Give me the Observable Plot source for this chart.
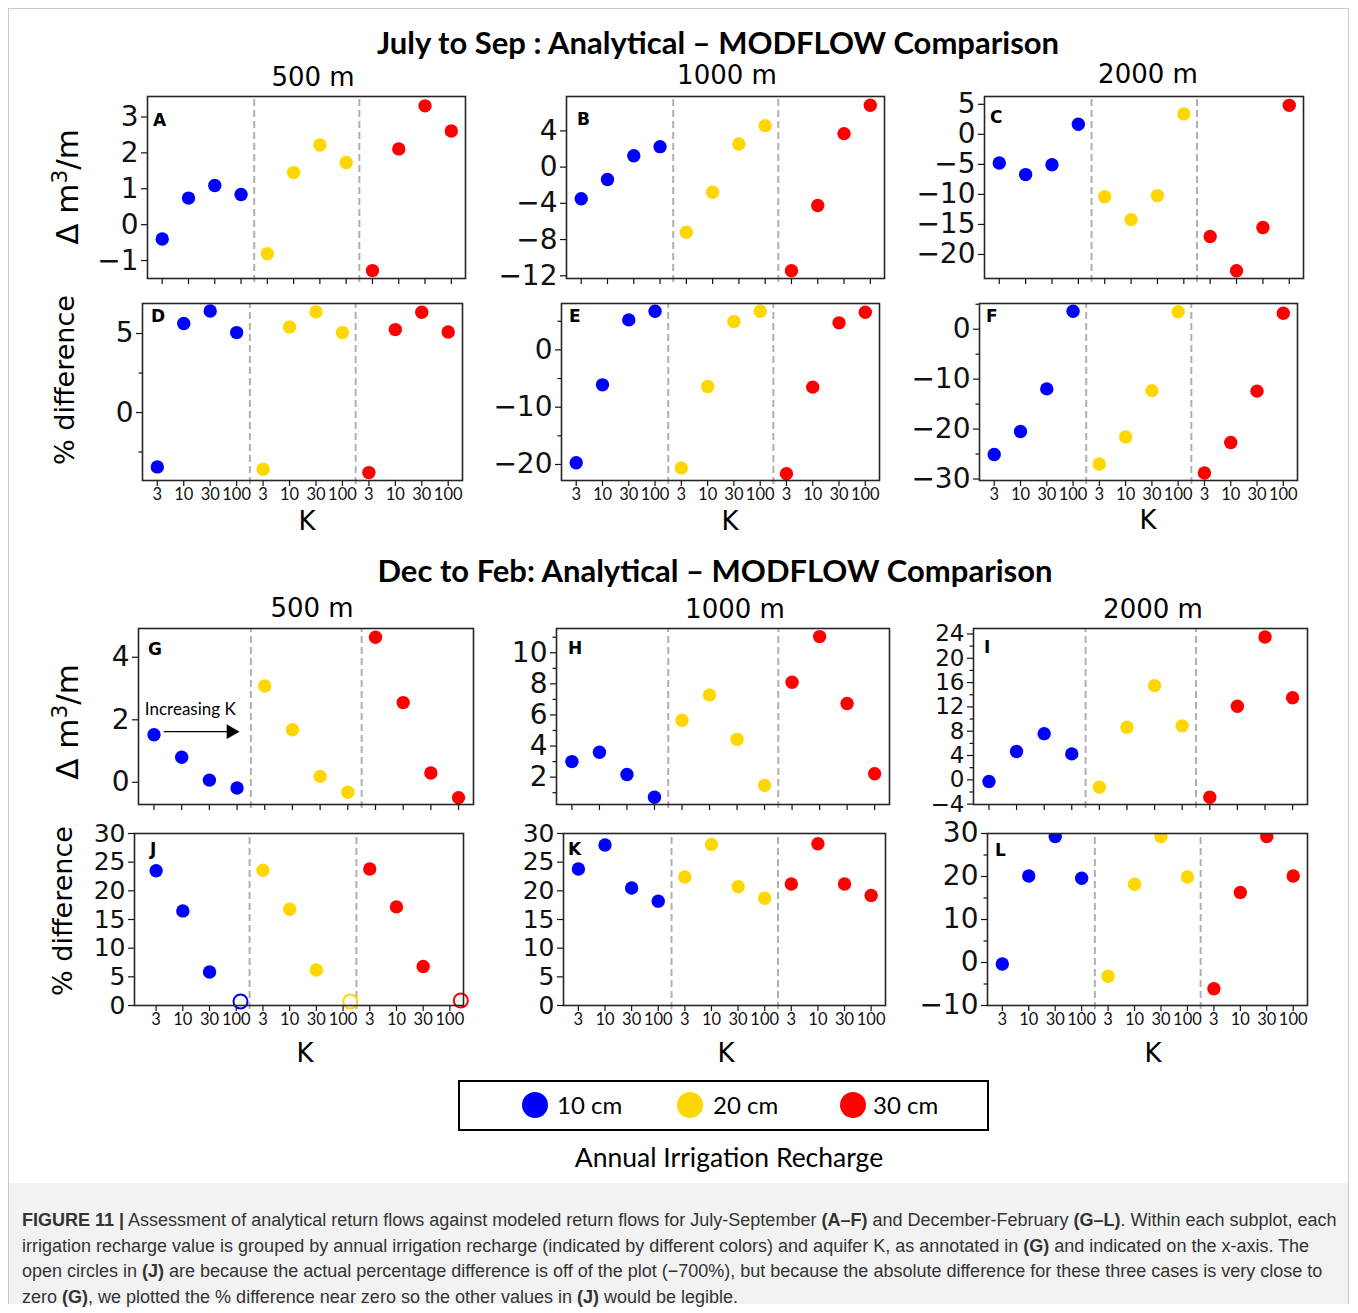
<!DOCTYPE html>
<html><head><meta charset="utf-8">
<script src="https://cdn.jsdelivr.net/npm/d3@7"></script>
<script src="https://cdn.jsdelivr.net/npm/@observablehq/plot@0.6"></script>
<style>
body{margin:0;background:#fff;}
#fig{position:relative;width:1358px;height:1313px;overflow:hidden;background:#fff;}
.abs{position:absolute;white-space:nowrap;line-height:1;}
.c{transform:translate(-50%,-50%);}
.title{font-family:Lato,sans-serif;font-weight:700;font-size:31px;color:#000;}
.sub{font-family:"DejaVu Sans",sans-serif;font-size:26px;color:#000;}
.klab{font-family:"DejaVu Sans",sans-serif;font-size:26px;color:#000;}
.ylab{font-family:"DejaVu Sans",sans-serif;color:#000;transform:translate(-50%,-50%) rotate(-90deg);}
.letter{font-family:"DejaVu Sans",sans-serif;font-weight:700;font-size:17px;color:#000;transform:translateY(-50%);}
.cap{font-family:"Liberation Sans",Arial,sans-serif;font-size:18px;color:#333;}
.cap b{color:#333;}
</style></head><body><div id="fig"></div>
<script>
// ---------- data ----------
const recharge = ["10 cm", "20 cm", "30 cm"];
const rechargeColors = ["#0000ff", "#ffd700", "#ff0000"];
const kLabels = ["3", "10", "30", "100"];

// July to Sep (values ordered: 10 cm K=3,10,30,100 | 20 cm ... | 30 cm ...)
const panelA = [-0.40, 0.74, 1.09, 0.84, -0.81, 1.45, 2.22, 1.73, -1.28, 2.11, 3.31, 2.61];
const panelB = [-3.5, -1.36, 1.26, 2.26, -7.2, -2.77, 2.55, 4.58, -11.44, -4.24, 3.7, 6.83];
const panelC = [-4.78, -6.7, -5.06, 1.67, -10.4, -14.2, -10.2, 3.4, -17.0, -22.7, -15.5, 4.83];
const panelD = [-3.44, 5.63, 6.43, 5.06, -3.59, 5.42, 6.37, 5.06, -3.8, 5.25, 6.35, 5.1];
const panelE = [-19.7, -6.1, 5.24, 6.75, -20.6, -6.4, 4.95, 6.75, -21.6, -6.5, 4.72, 6.57];
const panelF = [-25.1, -20.5, -11.95, 3.6, -27.0, -21.6, -12.3, 3.5, -28.8, -22.7, -12.4, 3.2];
// Dec to Feb
const panelG = [1.52, 0.80, 0.07, -0.18, 3.08, 1.68, 0.19, -0.32, 4.64, 2.55, 0.30, -0.49];
const panelH = [3.0, 3.6, 2.17, 0.71, 5.66, 7.29, 4.43, 1.47, 8.1, 11.04, 6.74, 2.22];
const panelI = [-0.28, 4.65, 7.6, 4.27, -1.2, 8.65, 15.5, 8.88, -2.86, 12.1, 23.5, 13.5];
const panelJ = [23.5, 16.5, 5.85, 0.7, 23.6, 16.8, 6.2, 0.7, 23.8, 17.2, 6.8, 0.87];
const panelJOpen = [false, false, false, true, false, false, false, true, false, false, false, true];
const panelJShift = [0, 0, 0, 0.16, 0, 0, 0, 0.27, 0, 0, 0, 0.41];
const panelK = [23.8, 28.0, 20.5, 18.2, 22.4, 28.1, 20.7, 18.7, 21.2, 28.2, 21.2, 19.2];
const panelL = [-0.35, 20.1, 29.3, 19.6, -3.2, 18.2, 29.3, 19.9, -6.1, 16.3, 29.3, 20.1];

// y tick labels per panel
const ticksA = [-1, 0, 1, 2, 3];
const ticksB = [-12, -8, -4, 0, 4];
const ticksC = [-20, -15, -10, -5, 0, 5];
const ticksD = [0, 5], minorD = [-2.5, 2.5];
const ticksE = [-20, -10, 0], minorE = [-15, -5, 5];
const ticksF = [-30, -20, -10, 0], minorF = [-25, -15, -5, 5];
const ticksG = [0, 2, 4];
const ticksH = [2, 4, 6, 8, 10], minorH = [1, 3, 5, 7, 9, 11];
const ticksI = [-4, 0, 4, 8, 12, 16, 20, 24], minorI = [-2, 2, 6, 10, 14, 18, 22];
const ticksJK = [0, 5, 10, 15, 20, 25, 30];
const ticksL = [-10, 0, 10, 20, 30], minorL = [-5, 5, 15, 25];

// ---------- layout ----------
const panels = [
  {id: "A", v: panelA, frame: [147, 96, 465, 278], y: [-1.5, 3.57], t: ticksA, m: [], lab: false, L: [6, 24]},
  {id: "B", v: panelB, frame: [566, 96, 884, 278], y: [-12.3, 7.8], t: ticksB, m: [], lab: false, L: [11, 23]},
  {id: "C", v: panelC, frame: [984, 96, 1303, 278], y: [-24, 6.3], t: ticksC, m: [], lab: false, L: [6, 21]},
  {id: "D", v: panelD, frame: [142, 303, 462, 480], y: [-4.3, 6.9], t: ticksD, m: minorD, lab: true, L: [9, 13]},
  {id: "E", v: panelE, frame: [561, 303, 879, 480], y: [-22.8, 8.1], t: ticksE, m: minorE, lab: true, L: [8, 13]},
  {id: "F", v: panelF, frame: [979, 303, 1297, 480], y: [-30.3, 5.15], t: ticksF, m: minorF, lab: true, L: [7, 13]},
  {id: "G", v: panelG, frame: [138, 628, 473, 804], y: [-0.71, 4.92], t: ticksG, m: [], lab: false, L: [10, 21], note: true},
  {id: "H", v: panelH, frame: [556, 628, 889, 804], y: [0.24, 11.56], t: ticksH, m: minorH, lab: false, L: [12, 20]},
  {id: "I", v: panelI, frame: [973, 628, 1307, 804], y: [-4.06, 24.9], t: ticksI, m: minorI, lab: false, L: [11, 19], fs: 23},
  {id: "J", v: panelJ, frame: [134, 833, 463, 1005], y: [0, 30], t: ticksJK, m: [], lab: true, L: [16, 16], xd: [-0.81, 11.51], open: panelJOpen, shift: panelJShift, fs: 25},
  {id: "K", v: panelK, frame: [563, 833, 885, 1005], y: [0, 30], t: ticksJK, m: [], lab: true, L: [5, 16], fs: 25},
  {id: "L", v: panelL, frame: [987, 833, 1307, 1005], y: [-10, 30], t: ticksL, m: minorL, lab: true, L: [8, 17]}
];

const fig = document.getElementById("fig");
function addDiv(html, cls, x, y, extra) {
  const d = document.createElement("div");
  d.className = "abs " + cls;
  d.innerHTML = html;
  d.style.left = x + "px";
  d.style.top = y + "px";
  if (extra) Object.assign(d.style, extra);
  fig.appendChild(d);
  return d;
}

// outer border and caption background
addDiv("", "", 8, 8, {width: "1341px", height: "1296px", border: "1px solid #c9c9c9", boxSizing: "border-box"});
addDiv("", "", 9, 1183, {width: "1339px", height: "121px", background: "#f2f2f2"});

const fmt = d => d < 0 ? "\u2212" + Math.abs(d) : String(d);
const nPer = kLabels.length;
const bounds = recharge.slice(1).map((_, g) => (g + 1) * nPer - 0.5);

for (const p of panels) {
  const [l, t, r, b] = p.frame;
  const mL = 95, mR = 14, mT = 14, mB = 44;
  const rows = p.v.map((v, i) => ({
    i, v,
    xi: i + (p.shift ? p.shift[i] : 0),
    rech: recharge[Math.floor(i / nPer)],
    k: kLabels[i % nPer],
    open: p.open ? p.open[i] : false
  }));
  const marks = [
    Plot.ruleX(bounds, {x: d => d, y1: p.y[0], y2: p.y[1], stroke: "#b0b0b0", strokeWidth: 2, strokeDasharray: "7,4", insetTop: 4}),
    Plot.axisY({ticks: p.t, tickSize: 6, tickPadding: 3, tickFormat: fmt, fontSize: p.fs || 28, fontFamily: "DejaVu Sans", color: "#111", label: null, strokeWidth: 1.2}),
    Plot.axisX({ticks: d3.range(p.v.length), tickSize: 6, tickPadding: 2, tickFormat: i => p.lab ? kLabels[i % nPer] : "", fontSize: 16.5, fontFamily: "Lato", color: "#111", label: null, strokeWidth: 1.2}),
    Plot.dot(rows.filter(d => !d.open), {x: "xi", y: "v", r: 6.7, fill: "rech", clip: true}),
    Plot.dot(rows.filter(d => d.open), {x: "xi", y: "v", r: 7, stroke: "rech", strokeWidth: 2, fill: "white"}),
    Plot.frame({stroke: "#262626", strokeWidth: 1.6})
  ];
  if (p.m.length) marks.push(Plot.axisY({ticks: p.m, tickSize: 3.5, tickFormat: () => "", color: "#111", label: null, strokeWidth: 1.2}));
  if (p.note) {
    marks.push(
      Plot.text(["Increasing K"], {x: -0.33, y: 2.33, text: d => d, textAnchor: "start", fontSize: 17, fontFamily: "Lato", fill: "#000"}),
      Plot.link([{x1: 0.35, x2: 2.75, y: 1.62}], {x1: "x1", x2: "x2", y1: "y", y2: "y", stroke: "#000", strokeWidth: 1.3}),
      Plot.dot([{x: 2.78, y: 1.62}], {x: "x", y: "y", symbol: "triangle", r: 5.5, rotate: 90, fill: "#000"})
    );
  }
  const svg = Plot.plot({
    width: (r - l) + mL + mR,
    height: (b - t) + mT + mB,
    marginLeft: mL, marginRight: mR, marginTop: mT, marginBottom: mB,
    x: {domain: p.xd || [-0.56, 11.54], axis: null},
    y: {domain: p.y, axis: null},
    color: {domain: recharge, range: rechargeColors},
    style: {background: "transparent", overflow: "visible"},
    marks
  });
  svg.style.position = "absolute";
  svg.style.left = (l - mL) + "px";
  svg.style.top = (t - mT) + "px";
  fig.appendChild(svg);
  addDiv(p.id, "letter", l + p.L[0], t + p.L[1]);
}

// titles
addDiv("July to Sep : Analytical \u2013 MODFLOW Comparison", "title c", 718, 42);
addDiv("Dec to Feb: Analytical \u2013 MODFLOW Comparison", "title c", 715, 570);
const distances = ["500 m", "1000 m", "2000 m"];
[[313, 77], [727, 75], [1148, 74]].forEach(([x, y], i) => addDiv(distances[i], "sub c", x, y));
[[312, 608], [735, 609], [1153, 609]].forEach(([x, y], i) => addDiv(distances[i], "sub c", x, y));
[[307, 521], [730, 521], [1148, 520], [305, 1053], [726, 1053], [1153, 1053]].forEach(([x, y]) => addDiv("K", "klab c", x, y));
addDiv("\u0394 m<sup style='font-size:0.7em;vertical-align:0.55em'>3</sup>/m", "ylab", 66, 187, {fontSize: "31px"});
addDiv("\u0394 m<sup style='font-size:0.7em;vertical-align:0.55em'>3</sup>/m", "ylab", 66, 722, {fontSize: "31px"});
addDiv("% difference", "ylab", 64, 380, {fontSize: "27px"});
addDiv("% difference", "ylab", 62, 911, {fontSize: "27px"});

// legend
const legendCx = [535, 690, 853];
const legendTx = [557, 713, 873];
const lg = d3.create("svg").attr("width", 1358).attr("height", 1313)
  .style("position", "absolute").style("left", "0px").style("top", "0px").style("pointer-events", "none");
lg.append("rect").attr("x", 459).attr("y", 1081).attr("width", 529).attr("height", 49).attr("fill", "none").attr("stroke", "#000").attr("stroke-width", 2);
recharge.forEach((name, i) => {
  lg.append("circle").attr("cx", legendCx[i]).attr("cy", 1105).attr("r", 13).attr("fill", rechargeColors[i]);
  lg.append("text").attr("x", legendTx[i]).attr("y", 1106).attr("dy", "0.35em").attr("font-family", "Lato").attr("font-size", 24).text(name);
});
fig.appendChild(lg.node());
addDiv("Annual Irrigation Recharge", "c", 729, 1157, {fontFamily: "Lato", fontSize: "26.5px"});

// caption
const capLines = [
  "<b>FIGURE 11 |</b> Assessment of analytical return flows against modeled return flows for July-September <b>(A\u2013F)</b> and December-February <b>(G\u2013L)</b>. Within each subplot, each",
  "irrigation recharge value is grouped by annual irrigation recharge (indicated by different colors) and aquifer K, as annotated in <b>(G)</b> and indicated on the x-axis. The",
  "open circles in <b>(J)</b> are because the actual percentage difference is off of the plot (\u2212700%), but because the absolute difference for these three cases is very close to",
  "zero <b>(G)</b>, we plotted the % difference near zero so the other values in <b>(J)</b> would be legible."
];
capLines.forEach((h, i) => addDiv(h, "cap", 22, 1211 + i * 25.7));
</script></body></html>
